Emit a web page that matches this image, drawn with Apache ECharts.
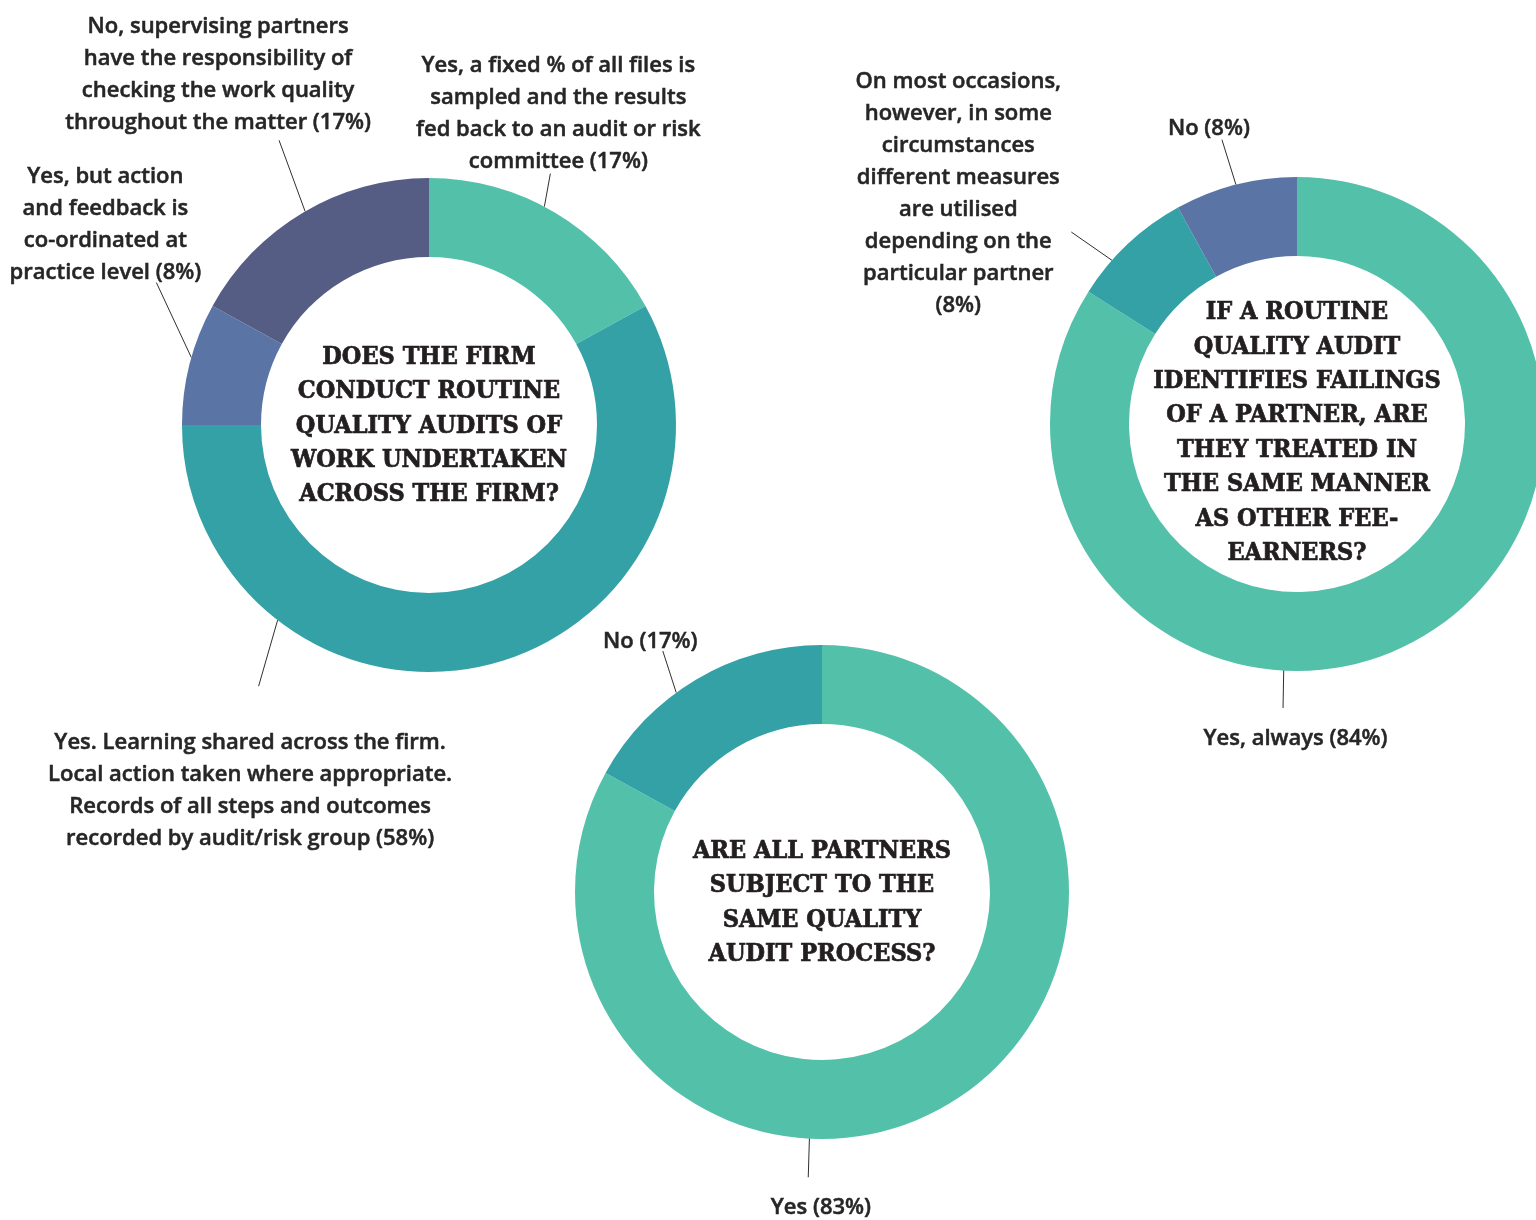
<!DOCTYPE html>
<html>
<head>
<meta charset="utf-8">
<title>Quality audits of partners</title>
<script src="https://cdn.jsdelivr.net/npm/echarts@6/dist/echarts.min.js"></script>
<style>
  html, body { margin: 0; padding: 0; background: #ffffff; }
  #chart { width: 1536px; height: 1220px; }
</style>
</head>
<body>
<div id="chart"></div>
<script>
// ---- Survey data -------------------------------------------------------

// Q1: routine quality audits of work across the firm
const q1Question = ['DOES THE FIRM', 'CONDUCT ROUTINE', 'QUALITY AUDITS OF', 'WORK UNDERTAKEN', 'ACROSS THE FIRM?'];
const q1Answers = [
  ['Yes, a fixed % of all files is', 'sampled and the results', 'fed back to an audit or risk', 'committee'],
  ['Yes. Learning shared across the firm.', 'Local action taken where appropriate.', 'Records of all steps and outcomes', 'recorded by audit/risk group'],
  ['Yes, but action', 'and feedback is', 'co-ordinated at', 'practice level'],
  ['No, supervising partners', 'have the responsibility of', 'checking the work quality', 'throughout the matter']
];
const q1Values = [17, 58, 8, 17];

// Q2: are partners' failings treated like other fee-earners'
const q2Question = ['IF A ROUTINE', 'QUALITY AUDIT', 'IDENTIFIES FAILINGS', 'OF A PARTNER, ARE', 'THEY TREATED IN', 'THE SAME MANNER', 'AS OTHER FEE-', 'EARNERS?'];
const q2Answers = [
  ['Yes, always'],
  ['On most occasions,', 'however, in some', 'circumstances', 'different measures', 'are utilised', 'depending on the', 'particular partner', ''],
  ['No']
];
const q2Values = [84, 8, 8];

// Q3: same audit process for all partners
const q3Question = ['ARE ALL PARTNERS', 'SUBJECT TO THE', 'SAME QUALITY', 'AUDIT PROCESS?'];
const q3Answers = [['Yes'], ['No']];
const q3Values = [83, 17];

// ---- Styling -----------------------------------------------------------

const R_IN = 168;
const R_OUT = 247;
const TEXT = '#262626';
const LINE = '#2f2f2f';
const LABEL_FONT = '"Open Sans", "Noto Sans", sans-serif';
const QUESTION_FONT = '"DejaVu Serif Condensed", "DejaVu Serif", serif';
const LABEL_NUDGE_Y = 1.5;

const q1Colors = ['#53C1A9', '#33A1A6', '#5B74A6', '#565D84'];
const q2Colors = ['#53C1A9', '#33A1A6', '#5B74A6'];
const q3Colors = ['#53C1A9', '#33A1A6'];

// Leader lines: t = position along the slice's arc (0..1), inset = distance
// inside the outer rim where the line starts, vec = the line segment,
// off = offset of the label block from the line end, va = block anchor.
const q1Leaders = [
  { t: 0.455, inset: 0, vec: [6, -33], off: [8, 3], va: 'bottom' },
  { t: 0.75, inset: 0, vec: [-19, 66], off: [-8.5, 39], va: 'top' },
  { t: 0.55, inset: 0, vec: [-35, -75], off: [-51, 4.5], va: 'bottom' },
  { t: 0.508, inset: 0, vec: [-26, -71], off: [-61, -3.5], va: 'bottom' }
];
const q2Leaders = [
  { t: 0.606, inset: 18.6, vec: [-1, 56], off: [12.5, 13], va: 'top' },
  { t: 0.316, inset: 0, vec: [-40.7, -28.3], off: [-113, -40], va: 'middle' },
  { t: 0.503, inset: 0, vec: [-14, -45], off: [-13, 3.5], va: 'bottom' }
];
const q3Leaders = [
  { t: 0.6125, inset: 17.7, vec: [-1.7, 56.3], off: [12.7, 12.7], va: 'top' },
  { t: 0.409, inset: 0, vec: [-13.4, -41.6], off: [-12.5, 5.3], va: 'bottom' }
];

const donuts = [
  { center: [429, 425], qShift: 1, question: q1Question, answers: q1Answers, values: q1Values, colors: q1Colors, leaders: q1Leaders },
  { center: [1297, 424], qShift: 9, question: q2Question, answers: q2Answers, values: q2Values, colors: q2Colors, leaders: q2Leaders },
  { center: [822, 892], qShift: 11, question: q3Question, answers: q3Answers, values: q3Values, colors: q3Colors, leaders: q3Leaders }
];

function donutSeries(d) {
  const total = d.values.reduce((a, b) => a + b, 0);
  const starts = [];
  let acc = 0;
  d.values.forEach(v => { starts.push(acc / total * 360); acc += v; });

  return {
    type: 'pie',
    center: d.center,
    radius: [R_IN, R_OUT],
    startAngle: 90,
    clockwise: true,
    avoidLabelOverlap: false,
    silent: true,
    itemStyle: { borderWidth: 0 },
    label: {
      show: true,
      position: 'outside',
      alignTo: 'none',
      overflow: 'none',
      color: TEXT,
      textBorderColor: TEXT,
      textBorderWidth: 0.5,
      fontFamily: LABEL_FONT,
      fontWeight: 600,
      fontSize: 22,
      lineHeight: 32,
      formatter: p => p.name + (p.name.endsWith('\n') ? '' : ' ') + '(' + p.value + '%)'
    },
    labelLine: {
      show: true,
      length: 20,
      length2: 0,
      lineStyle: { color: LINE, width: 1 }
    },
    labelLayout: p => {
      const L = d.leaders[p.dataIndex];
      const span = d.values[p.dataIndex] / total * 360;
      const th = (starts[p.dataIndex] + L.t * span) * Math.PI / 180;
      const r = R_OUT - L.inset;
      const sx = d.center[0] + r * Math.sin(th);
      const sy = d.center[1] - r * Math.cos(th);
      const ex = sx + L.vec[0];
      const ey = sy + L.vec[1];
      return {
        x: ex + L.off[0],
        y: ey + L.off[1] + LABEL_NUDGE_Y,
        align: 'center',
        verticalAlign: L.va,
        labelLinePoints: [[sx, sy], [ex, ey]]
      };
    },
    data: d.values.map((v, i) => ({
      value: v,
      name: d.answers[i].join('\n'),
      itemStyle: { color: d.colors[i] }
    }))
  };
}

const chart = echarts.init(document.getElementById('chart'), null, { renderer: 'canvas' });

chart.setOption({
  backgroundColor: '#ffffff',
  animation: false,
  series: donuts.map(donutSeries),
  graphic: donuts.map(d => ({
    type: 'text',
    x: d.center[0],
    y: d.center[1] + d.qShift,
    silent: true,
    style: {
      text: d.question.join('\n'),
      fill: '#231F20',
      stroke: '#231F20',
      lineWidth: 0.7,
      font: 'bold 25px ' + QUESTION_FONT,
      align: 'center',
      verticalAlign: 'middle',
      textAlign: 'center',
      textVerticalAlign: 'middle',
      lineHeight: 34.4
    }
  }))
});
</script>
</body>
</html>
